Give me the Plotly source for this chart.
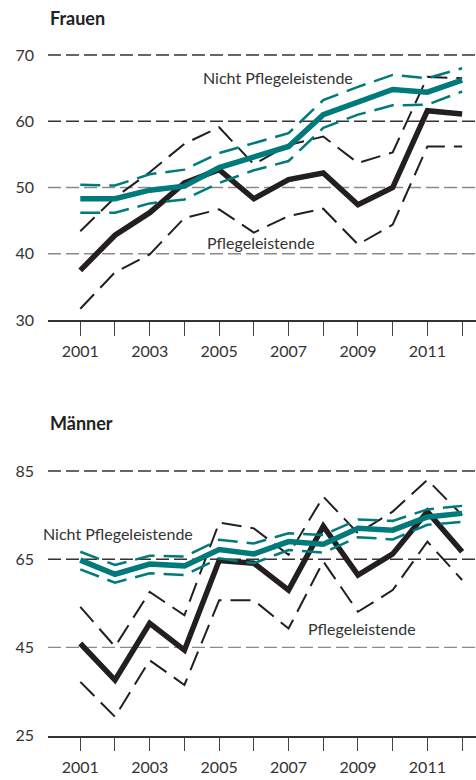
import plotly.graph_objects as go

years = list(range(2001, 2013))

# Frauen
f_nicht = [48.3, 48.3, 49.6, 50.2, 53.0, 54.6, 56.2, 61.0, 63.0, 64.8, 64.4, 66.2]
f_nicht_hi = [50.4, 50.3, 52.0, 52.7, 55.2, 56.7, 58.2, 63.2, 65.2, 67.0, 66.5, 68.0]
f_nicht_lo = [46.2, 46.2, 47.6, 48.2, 50.7, 52.6, 54.0, 59.0, 61.0, 62.4, 62.5, 64.5]
f_pflege = [37.5, 42.8, 46.2, 50.7, 52.7, 48.3, 51.2, 52.2, 47.4, 50.0, 61.6, 61.1]
f_pflege_hi = [43.4, 48.5, 52.3, 56.6, 59.1, 53.5, 56.4, 57.7, 53.7, 55.3, 66.7, 66.5]
f_pflege_lo = [31.7, 37.2, 39.9, 45.4, 46.7, 43.2, 45.7, 46.8, 41.4, 44.4, 56.2, 56.2]

# Männer
m_nicht = [64.8, 61.6, 63.9, 63.5, 67.2, 66.2, 69.0, 68.4, 72.0, 71.6, 74.6, 75.4]
m_nicht_hi = [66.7, 63.7, 65.8, 65.6, 69.4, 68.6, 70.9, 70.5, 74.0, 73.7, 76.3, 77.1]
m_nicht_lo = [62.7, 59.7, 61.8, 61.4, 65.2, 64.1, 67.1, 66.5, 70.0, 69.5, 72.8, 73.5]
m_pflege = [45.9, 37.6, 50.5, 44.4, 64.7, 64.1, 58.0, 72.5, 61.4, 66.2, 75.8, 66.7]
m_pflege_hi = [54.2, 45.2, 57.6, 52.3, 73.3, 72.0, 66.0, 79.2, 70.9, 75.8, 83.0, 75.0]
m_pflege_lo = [37.2, 29.3, 42.1, 36.5, 55.7, 55.7, 49.3, 64.5, 53.1, 58.0, 69.0, 60.3]

f_ticks = [30, 40, 50, 60, 70]
m_ticks = [25, 45, 65, 85]
x_ticktext = [str(y) if y % 2 == 1 else "" for y in years]

TEAL = "#007a7b"
BLACK = "#231f20"
TXT = "#333333"
FONT = "Lato"

fig = go.Figure()

def add_panel(xa, ya, nicht, nhi, nlo, pfl, phi, plo):
    for vals in (phi, plo):
        fig.add_trace(go.Scatter(x=years, y=vals, mode="lines", xaxis=xa, yaxis=ya,
                                 line=dict(color=BLACK, width=2, dash="20px,9px"),
                                 showlegend=False, hoverinfo="skip"))
    fig.add_trace(go.Scatter(x=years, y=pfl, mode="lines", xaxis=xa, yaxis=ya,
                             line=dict(color=BLACK, width=5.5),
                             showlegend=False))
    for vals in (nhi, nlo):
        fig.add_trace(go.Scatter(x=years, y=vals, mode="lines", xaxis=xa, yaxis=ya,
                                 line=dict(color=TEAL, width=2.5, dash="20px,9px"),
                                 showlegend=False, hoverinfo="skip"))
    fig.add_trace(go.Scatter(x=years, y=nicht, mode="lines", xaxis=xa, yaxis=ya,
                             line=dict(color=TEAL, width=5.5),
                             showlegend=False))

add_panel("x", "y", f_nicht, f_nicht_hi, f_nicht_lo, f_pflege, f_pflege_hi, f_pflege_lo)
add_panel("x2", "y2", m_nicht, m_nicht_hi, m_nicht_lo, m_pflege, m_pflege_hi, m_pflege_lo)

# gridlines (dark for upper ones, gray for lower ones as in the original)
shapes = []
f_grid_colors = {40: "#8a8a8a", 50: "#8a8a8a", 60: "#333333", 70: "#333333"}
m_grid_colors = {45: "#8a8a8a", 65: "#333333", 85: "#333333"}
for v, c in f_grid_colors.items():
    shapes.append(dict(type="line", xref="x domain", yref="y", x0=0, x1=1, y0=v, y1=v,
                       line=dict(color=c, width=1.3, dash="13px,5px"), layer="below"))
for v, c in m_grid_colors.items():
    shapes.append(dict(type="line", xref="x2 domain", yref="y2", x0=0, x1=1, y0=v, y1=v,
                       line=dict(color=c, width=1.3, dash="13px,5px"), layer="below"))

H = 780.0
xaxis_common = dict(range=[2000.07, 2012.4], tickvals=years, ticktext=x_ticktext,
                    ticks="outside", ticklen=14, tickwidth=1, tickcolor="#444",
                    showline=True, linecolor="#333", linewidth=1.5, automargin=False,
                    showgrid=False, zeroline=False, domain=[48 / 476, 1],
                    tickfont=dict(family=FONT, size=16, color=TXT), ticklabelstandoff=2)
yaxis_common = dict(showgrid=False, zeroline=False, showline=False, ticks="",
                    automargin=False,
                    tickfont=dict(family=FONT, size=16, color=TXT), ticklabelstandoff=13)

fig.update_layout(
    width=476, height=780,
    margin=dict(l=0, r=0, t=0, b=0, autoexpand=False),
    paper_bgcolor="white", plot_bgcolor="white",
    shapes=shapes,
    xaxis=dict(**xaxis_common, anchor="y"),
    xaxis2=dict(**xaxis_common, anchor="y2"),
    yaxis=dict(**yaxis_common, range=[30, 71], tickvals=f_ticks, anchor="x",
               domain=[1 - 320 / H, 1 - 48.4 / H]),
    yaxis2=dict(**yaxis_common, range=[25, 87], tickvals=m_ticks, anchor="x2",
                domain=[1 - 735.7 / H, 1 - 462.2 / H]),
    annotations=[
        dict(text="<b>Frauen</b>", xref="paper", yref="paper", x=48 / 476, y=1 - 18 / H,
             xanchor="left", yanchor="middle", showarrow=False,
             font=dict(family=FONT, size=18, color="#222")),
        dict(text="<b>Männer</b>", xref="paper", yref="paper", x=48 / 476, y=1 - 423 / H,
             xanchor="left", yanchor="middle", showarrow=False,
             font=dict(family=FONT, size=18, color="#222")),
        dict(text="Nicht Pflegeleistende", xref="x", yref="y", x=2006.69, y=66.57,
             showarrow=False, font=dict(family=FONT, size=16, color=TXT)),
        dict(text="Pflegeleistende", xref="x", yref="y", x=2006.2, y=41.67,
             showarrow=False, font=dict(family=FONT, size=16, color=TXT)),
        dict(text="Nicht Pflegeleistende", xref="x2", yref="y2", x=2002.08, y=70.88,
             showarrow=False, font=dict(family=FONT, size=16, color=TXT)),
        dict(text="Pflegeleistende", xref="x2", yref="y2", x=2009.12, y=49.35,
             showarrow=False, font=dict(family=FONT, size=16, color=TXT)),
    ],
)

fig.write_html(
    "out.html",
    config={"displayModeBar": False},
    post_script="document.body.style.margin='0';document.body.style.overflow='hidden';",
)
